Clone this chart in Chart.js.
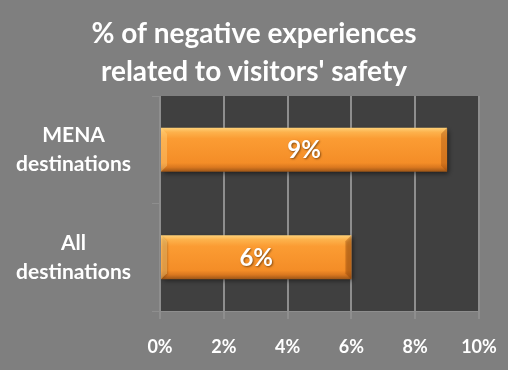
<!DOCTYPE html>
<html>
<head>
<meta charset="utf-8">
<script src="https://cdn.jsdelivr.net/npm/chart.js@4"></script>
<style>
  html, body { margin: 0; padding: 0; background: #7f7f7f; }
  #wrap { width: 508px; height: 370px; }
</style>
</head>
<body>
<div id="wrap"><canvas id="safetyChart"></canvas></div>
<script>
// Data
const categories = [['MENA', 'destinations'], ['All', 'destinations']];
const shares = [9, 6]; // % of negative experiences
const xTicks = [0, 2, 4, 6, 8, 10];
const titleLines = ['% of negative experiences', "related to visitors' safety"];

const FONT = 'Lato, "Open Sans", sans-serif';
const GRID = '#8e8e8e';
const BAR_PCT = 0.41;

// Dark plot area behind the bars
const plotBackground = {
    id: 'plotBackground',
    beforeDraw(chart) {
        const { ctx, chartArea: a } = chart;
        ctx.save();
        ctx.fillStyle = '#404040';
        ctx.fillRect(a.left, a.top, a.right - a.left, a.bottom - a.top);
        ctx.restore();
    }
};

// title centred on the whole canvas (the built-in one centres on the padded box)
const canvasTitle = {
    id: 'canvasTitle',
    afterDraw(chart) {
        const ctx = chart.ctx;
        ctx.save();
        ctx.font = 'bold 28px ' + FONT;
        ctx.fillStyle = '#ffffff';
        ctx.textAlign = 'center';
        ctx.textBaseline = 'middle';
        titleLines.forEach((line, i) => {
            ctx.fillText(line, chart.width / 2, 34 + i * 38);
        });
        ctx.restore();
    }
};

// vertical orange gradient for each bar, worked out from the y scale
function barGradient(context) {
    const chart = context.chart;
    const y = chart.scales.y;
    if (!y || !chart.chartArea) return '#f7922a';
    const center = y.getPixelForValue(context.dataIndex);
    const h = (y.height / categories.length) * BAR_PCT;
    const top = center - h / 2;
    const g = chart.ctx.createLinearGradient(0, top, 0, top + h);
    g.addColorStop(0, '#ffd27a');
    g.addColorStop(0.1, '#fdb24c');
    g.addColorStop(0.25, '#fb9c33');
    g.addColorStop(0.8, '#f48d27');
    g.addColorStop(0.9, '#d9771f');
    g.addColorStop(1, '#9a5417');
    return g;
}

// soft shadow, bevel edges and value labels
const bevelBars = {
    id: 'bevelBars',
    beforeDatasetsDraw(chart) {
        const ctx = chart.ctx;
        ctx.save();
        ctx.shadowColor = 'rgba(0, 0, 0, 0.55)';
        ctx.shadowBlur = 5;
        ctx.shadowOffsetX = 2;
        ctx.shadowOffsetY = 2;
    },
    afterDatasetsDraw(chart) {
        const ctx = chart.ctx;
        ctx.restore();
        ctx.save();
        chart.getDatasetMeta(0).data.forEach((bar, i) => {
            const top = bar.y - bar.height / 2;
            const bottom = top + bar.height;
            const left = bar.base;
            const right = bar.x;
            const b = 6;
            ctx.fillStyle = 'rgba(150, 70, 10, 0.35)';
            ctx.beginPath();
            ctx.moveTo(right, top);
            ctx.lineTo(right, bottom);
            ctx.lineTo(right - b, bottom - b);
            ctx.lineTo(right - b, top + b);
            ctx.closePath();
            ctx.fill();
            ctx.fillStyle = 'rgba(255, 220, 140, 0.35)';
            ctx.beginPath();
            ctx.moveTo(left, top);
            ctx.lineTo(left + b, top + b);
            ctx.lineTo(left + b, bottom - b);
            ctx.lineTo(left, bottom);
            ctx.closePath();
            ctx.fill();
            ctx.font = 'bold 24px ' + FONT;
            ctx.textAlign = 'center';
            ctx.textBaseline = 'middle';
            ctx.shadowColor = 'rgba(60, 30, 0, 0.6)';
            ctx.shadowBlur = 2;
            ctx.shadowOffsetX = 1;
            ctx.shadowOffsetY = 1;
            ctx.fillStyle = '#ffffff';
            ctx.fillText(shares[i] + '%', (left + right) / 2, bar.y + 1);
        });
        ctx.restore();
    }
};

new Chart(document.getElementById('safetyChart'), {
    type: 'bar',
    data: {
        labels: categories,
        datasets: [{
            data: shares,
            backgroundColor: barGradient,
            borderWidth: 0,
            borderSkipped: false,
            categoryPercentage: 1,
            barPercentage: BAR_PCT
        }]
    },
    options: {
        indexAxis: 'y',
        responsive: true,
        maintainAspectRatio: false,
        animation: false,
        layout: { padding: { left: 0, right: 29, top: 96, bottom: 0 } },
        plugins: {
            legend: { display: false },
            tooltip: { enabled: false },
            title: { display: false }
        },
        scales: {
            x: {
                min: 0,
                max: 10,
                afterBuildTicks(scale) {
                    scale.ticks = xTicks.map(v => ({ value: v }));
                },
                afterFit(scale) {
                    scale.height = 59;
                    scale.paddingLeft = 0;
                    scale.paddingRight = 0;
                },
                grid: { color: GRID, lineWidth: 2, tickLength: 8 },
                border: { color: GRID, width: 1 },
                ticks: {
                    color: '#ffffff',
                    padding: 17,
                    maxRotation: 0,
                    font: { family: FONT, size: 18, weight: 'bold' },
                    callback: v => v + '%'
                }
            },
            y: {
                grid: { drawOnChartArea: false, color: GRID, tickLength: 8 },
                border: { color: GRID, width: 1 },
                afterFit(scale) { scale.width = 160; },
                ticks: {
                    color: '#ffffff',
                    crossAlign: 'center',
                    padding: 21,
                    font: { family: FONT, size: 21, weight: 'bold', lineHeight: 1.38 }
                }
            }
        }
    },
    plugins: [plotBackground, bevelBars, canvasTitle]
});
</script>
</body>
</html>
